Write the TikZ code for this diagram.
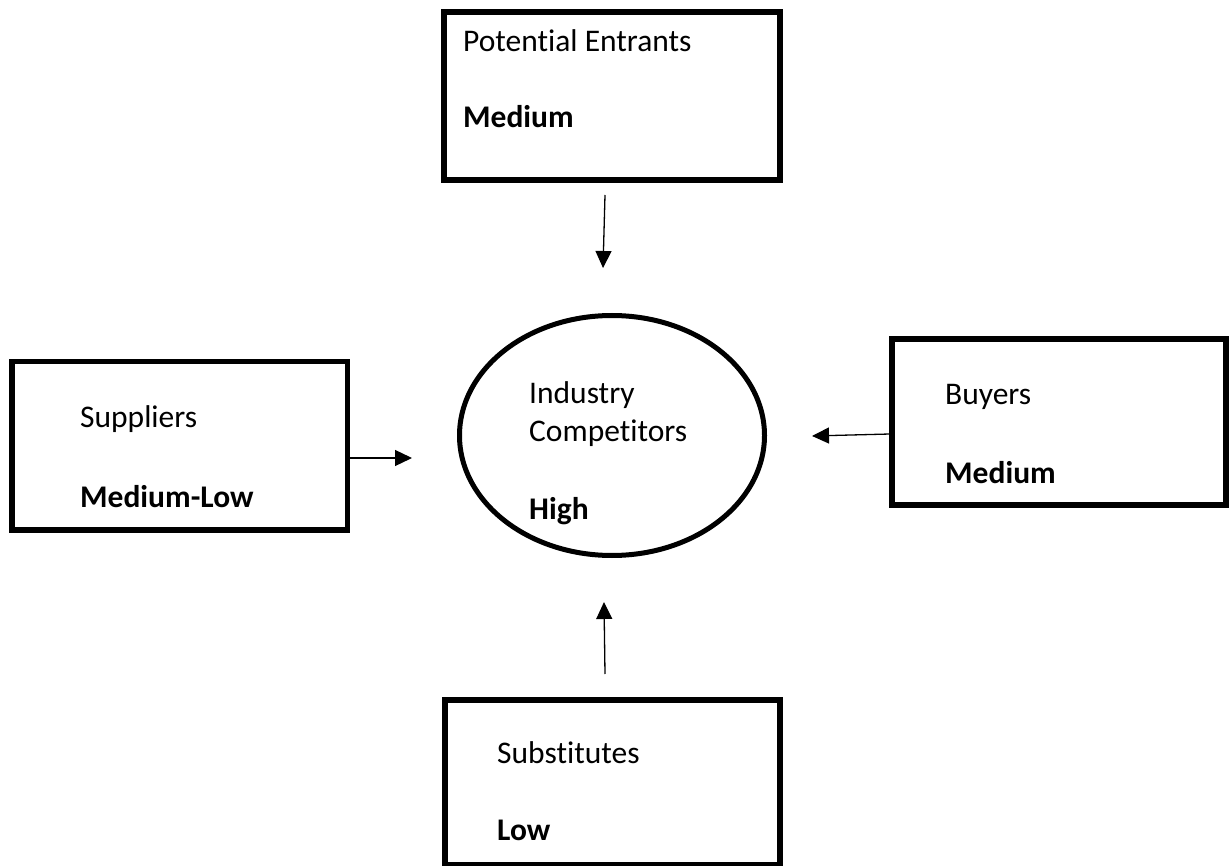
\documentclass[tikz,border=0pt]{standalone}
\usepackage{fontspec}
\setmainfont[Ligatures=NoCommon]{Carlito}
\usetikzlibrary{arrows.meta,shapes.geometric}
\begin{document}
\begin{tikzpicture}[x=1pt,y=-1pt,
  force/.style={draw=black,line width=5.5pt,rectangle,inner sep=0pt},
  rivalry/.style={draw=black,line width=5pt,ellipse,inner sep=0pt,minimum width=305pt,minimum height=240pt},
  label/.style={anchor=base west,inner sep=0pt,font=\fontsize{31.5}{37}\selectfont},
  strong/.style={label,font=\fontsize{31.5}{37}\selectfont\bfseries},
  push/.style={line width=1.3pt,-{Triangle[width=16pt,length=17pt]}}]
\useasboundingbox (0,0) rectangle (1229,866);
\fill[white] (0,0) rectangle (1229,866);

% five forces
\node[force,minimum width=336pt,minimum height=168pt] (entrants) at (612,96) {};
\node[force,minimum width=335.5pt,minimum height=168.5pt] (suppliers) at (179.75,445.75) {};
\node[force,minimum width=334pt,minimum height=166pt] (buyers) at (1059,422) {};
\node[force,minimum width=335pt,minimum height=165pt] (substitutes) at (612.5,782.5) {};
\node[rivalry] (rivals) at (612,435.5) {};

% texts
\node[label] (t1) at (463,52) {Potential Entrants};
\node[strong] (v1) at (463,128) {Medium};
\node[label] (t2) at (80,428) {Suppliers};
\node[strong] (v2) at (80,507) {Medium-Low};
\node[label] (t3a) at (529,403) {Industry};
\node[label] (t3b) at (529,442) {Competitors};
\node[strong] (v3) at (529,519) {High};
\node[label] (t4) at (945,405) {Buyers};
\node[strong] (v4) at (945,483) {Medium};
\node[label] (t5) at (497,763) {Substitutes};
\node[strong] (v5) at (497,840) {Low};

% arrow ends
\coordinate (eA) at (605,195);
\coordinate (eB) at (603,268);
\coordinate (sA) at (350,458);
\coordinate (sB) at (412,458);
\coordinate (bA) at (890,434);
\coordinate (bB) at (812,436);
\coordinate (uA) at (605,674);
\coordinate (uB) at (604,602);

\draw[push] (eA) -- (eB);
\draw[push] (sA) -- (sB);
\draw[push] (bA) -- (bB);
\draw[push] (uA) -- (uB);
\end{tikzpicture}
\end{document}
